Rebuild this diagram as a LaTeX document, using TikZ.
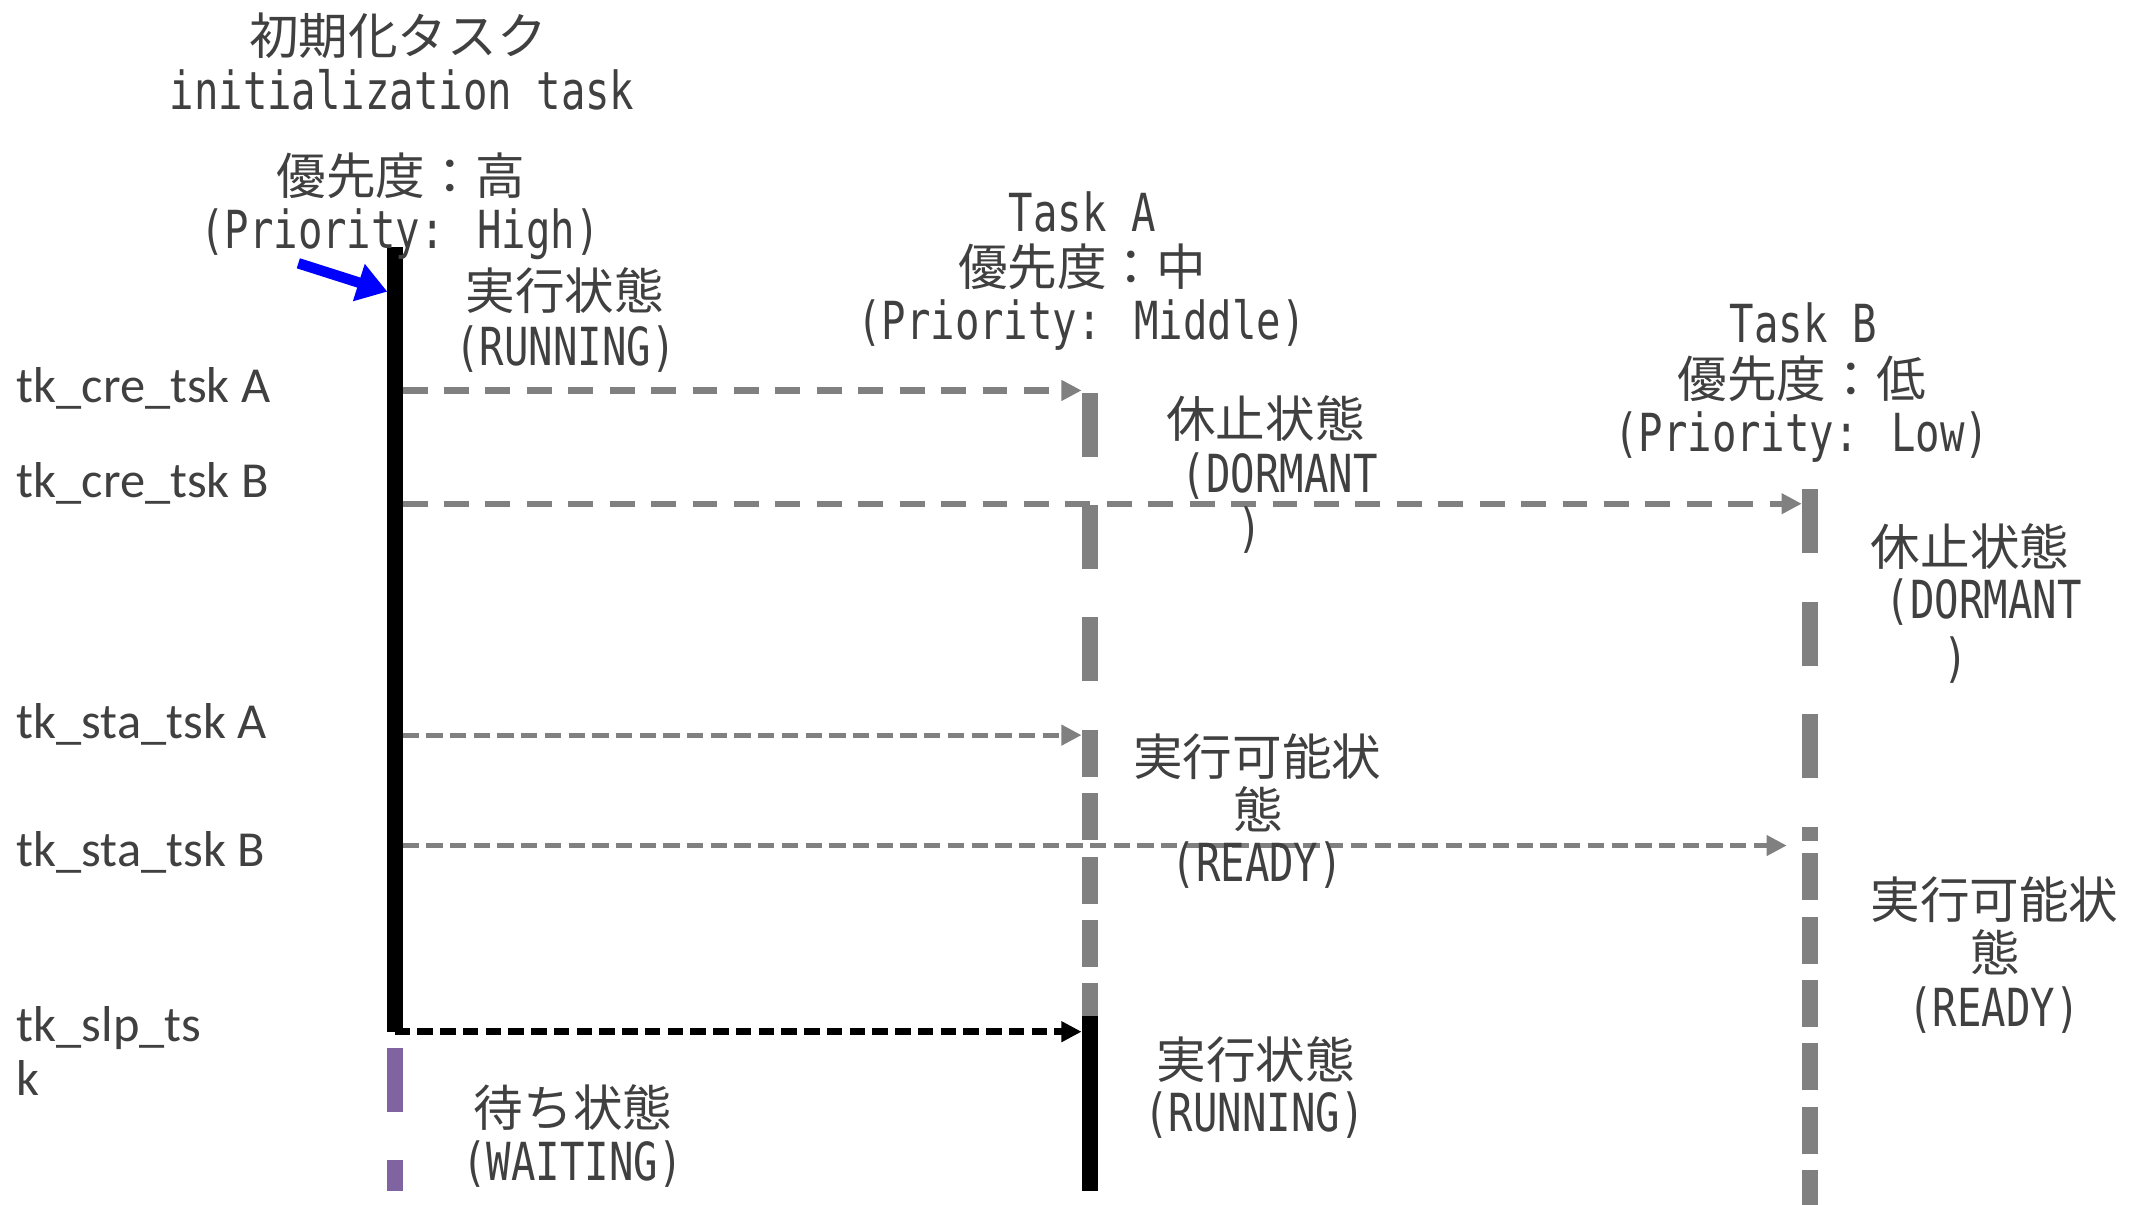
\documentclass[tikz,border=0pt]{standalone}
\usepackage{fontspec}
\usetikzlibrary{arrows.meta}
\newfontfamily\jpf{Noto Sans CJK JP}
\newfontfamily\monof[FakeStretch=0.775]{DejaVu Sans Mono}
\newfontfamily\lblf{Carlito}
\definecolor{txt}{HTML}{404040}
\definecolor{lgray}{HTML}{808080}
\definecolor{wpurple}{HTML}{8064A2}
\tikzset{
  jp/.style={font=\jpf\fontsize{20.71pt}{24pt}\selectfont, text=txt, inner sep=0pt, text height=18.2pt, text depth=2.5pt},
  mono/.style={font=\monof\fontsize{21.9pt}{24pt}\selectfont, text=txt, inner sep=0pt, text height=18.6pt, text depth=2.6pt},
  lbl/.style={font=\lblf\fontsize{21.05pt}{24pt}\selectfont, text=txt, inner sep=0pt, anchor=base west},
  runline/.style={line width=6.66pt, black},
  dormline/.style={line width=6.66pt, lgray, dash pattern=on 26.75pt off 20.2pt},
  readyline/.style={line width=6.66pt, lgray, dash pattern=on 19.63pt off 6.83pt},
  waitline/.style={line width=6.66pt, wpurple, dash pattern=on 26.75pt off 20.2pt},
  headtip/.style={-{Triangle[length=8.4pt,width=8.2pt]}},
  crearrow/.style={headtip, lgray, line width=2.6pt, dash pattern=on 10.4pt off 6.9pt},
  staarrow/.style={headtip, lgray, line width=2.1pt, dash pattern=on 6.8pt off 3.1pt},
  slparrow/.style={headtip, black, line width=2.8pt, dash pattern=on 6.5pt off 3pt},
  bluearrow/.style={-{Triangle[length=12.5pt,width=15.5pt]}, blue, line width=4.4pt},
}
\begin{document}
\begin{tikzpicture}[x=0.02cm,y=-0.02cm]
\fill[white] (0,0) rectangle (1568,884);
\path[use as bounding box] (0,0) rectangle (1568,884);

% ---- lifeline coordinates
\coordinate (I0) at (289.5,181.5);
\coordinate (I1) at (289.5,757);
\coordinate (W0) at (289.5,768.7);
\coordinate (W1) at (289.5,874);
\coordinate (A0) at (799.7,288);
\coordinate (A1) at (799.7,535.5);
\coordinate (A2) at (799.7,745.6);
\coordinate (A3) at (799.7,874);
\coordinate (B0) at (1328,359);
\coordinate (B1) at (1328,617);
\coordinate (B2) at (1328,626);
\coordinate (B3) at (1328,886);

% ---- lifelines
\draw[runline] (I0) -- (I1);
\draw[waitline] (W0) -- (W1);
\draw[dormline] (A0) -- (A1);
\draw[readyline] (A1) -- (A2);
\draw[runline] (A2) -- (A3);
\draw[dormline] (B0) -- (B1);
\draw[readyline] (B2) -- (B3);

% ---- call coordinates
\coordinate (creAs) at (295.4,286.5);
\coordinate (creAe) at (793.6,286.5);
\coordinate (creBs) at (295.4,369.6);
\coordinate (creBe) at (1322,369.6);
\coordinate (staAs) at (295.4,539.4);
\coordinate (staAe) at (793.6,539.4);
\coordinate (staBs) at (295.4,620.4);
\coordinate (staBe) at (1311,620.4);
\coordinate (slps) at (289.5,757);
\coordinate (slpe) at (793.6,757);

\draw[crearrow] (creAs) -- (creAe);
\draw[crearrow] (creBs) -- (creBe);
\draw[staarrow] (staAs) -- (staAe);
\draw[staarrow] (staBs) -- (staBe);
\draw[slparrow] (slps) -- (slpe);

% ---- blue start arrow
\coordinate (bt) at (218.9,193.2);
\coordinate (bh) at (284.2,214);
\draw[bluearrow] (bt) -- (bh);

% ---- headers
\node[jp] (initjp) at (292,26) {初期化タスク};
\node[mono] (initen) at (295,66) {initialization task};
\node[jp] (initpjp) at (294,129) {優先度：高};
\node[mono] (initpen) at (293.5,168) {(Priority: High)};

\node[mono] (taname) at (794,155.5) {Task A};
\node[jp] (tapjp) at (794,195.5) {優先度：中};
\node[mono] (tapen) at (793.5,235) {(Priority: Middle)};

\node[mono] (tbname) at (1323,237) {Task B};
\node[jp] (tbpjp) at (1322,278) {優先度：低};
\node[mono] (tbpen) at (1322,317) {(Priority: Low)};

% ---- state labels
\node[jp] (irunjp) at (414.5,213) {実行状態};
\node[mono] (irunen) at (415,254) {(RUNNING)};

\node[jp] (adormjp) at (928.5,307) {休止状態};
\node[mono] (adormen) at (939,347) {(DORMANT};
\node[mono] (adormen2) at (917,387) {)};

\node[jp] (bdormjp) at (1445.5,401) {休止状態};
\node[mono] (bdormen) at (1455.5,440) {(DORMANT};
\node[mono] (bdormen2) at (1435,482) {)};

\node[jp] (areadyjp) at (922.5,555) {実行可能状};
\node[jp] (areadyjp2) at (923,594) {態};
\node[mono] (areadyen) at (922.5,633) {(READY)};

\node[jp] (breadyjp) at (1463.5,660) {実行可能状};
\node[jp] (breadyjp2) at (1464,699) {態};
\node[mono] (breadyen) at (1463,739) {(READY)};

\node[jp] (arunjp) at (921.5,777.5) {実行状態};
\node[mono] (arunen) at (920.5,816.5) {(RUNNING)};

\node[jp] (iwaitjp) at (420.5,812.5) {待ち状態};
\node[mono] (iwaiten) at (420,852) {(WAITING)};

% ---- service call labels
\node[lbl] (lcreA) at (12,295) {tk\_cre\_tsk A};
\node[lbl] (lcreB) at (12,365) {tk\_cre\_tsk B};
\node[lbl] (lstaA) at (12,542) {tk\_sta\_tsk A};
\node[lbl] (lstaB) at (12,636) {tk\_sta\_tsk B};
\node[lbl] (lslp) at (12,764) {tk\_slp\_ts};
\node[lbl] (lslp2) at (12,804) {k};
\end{tikzpicture}
\end{document}
